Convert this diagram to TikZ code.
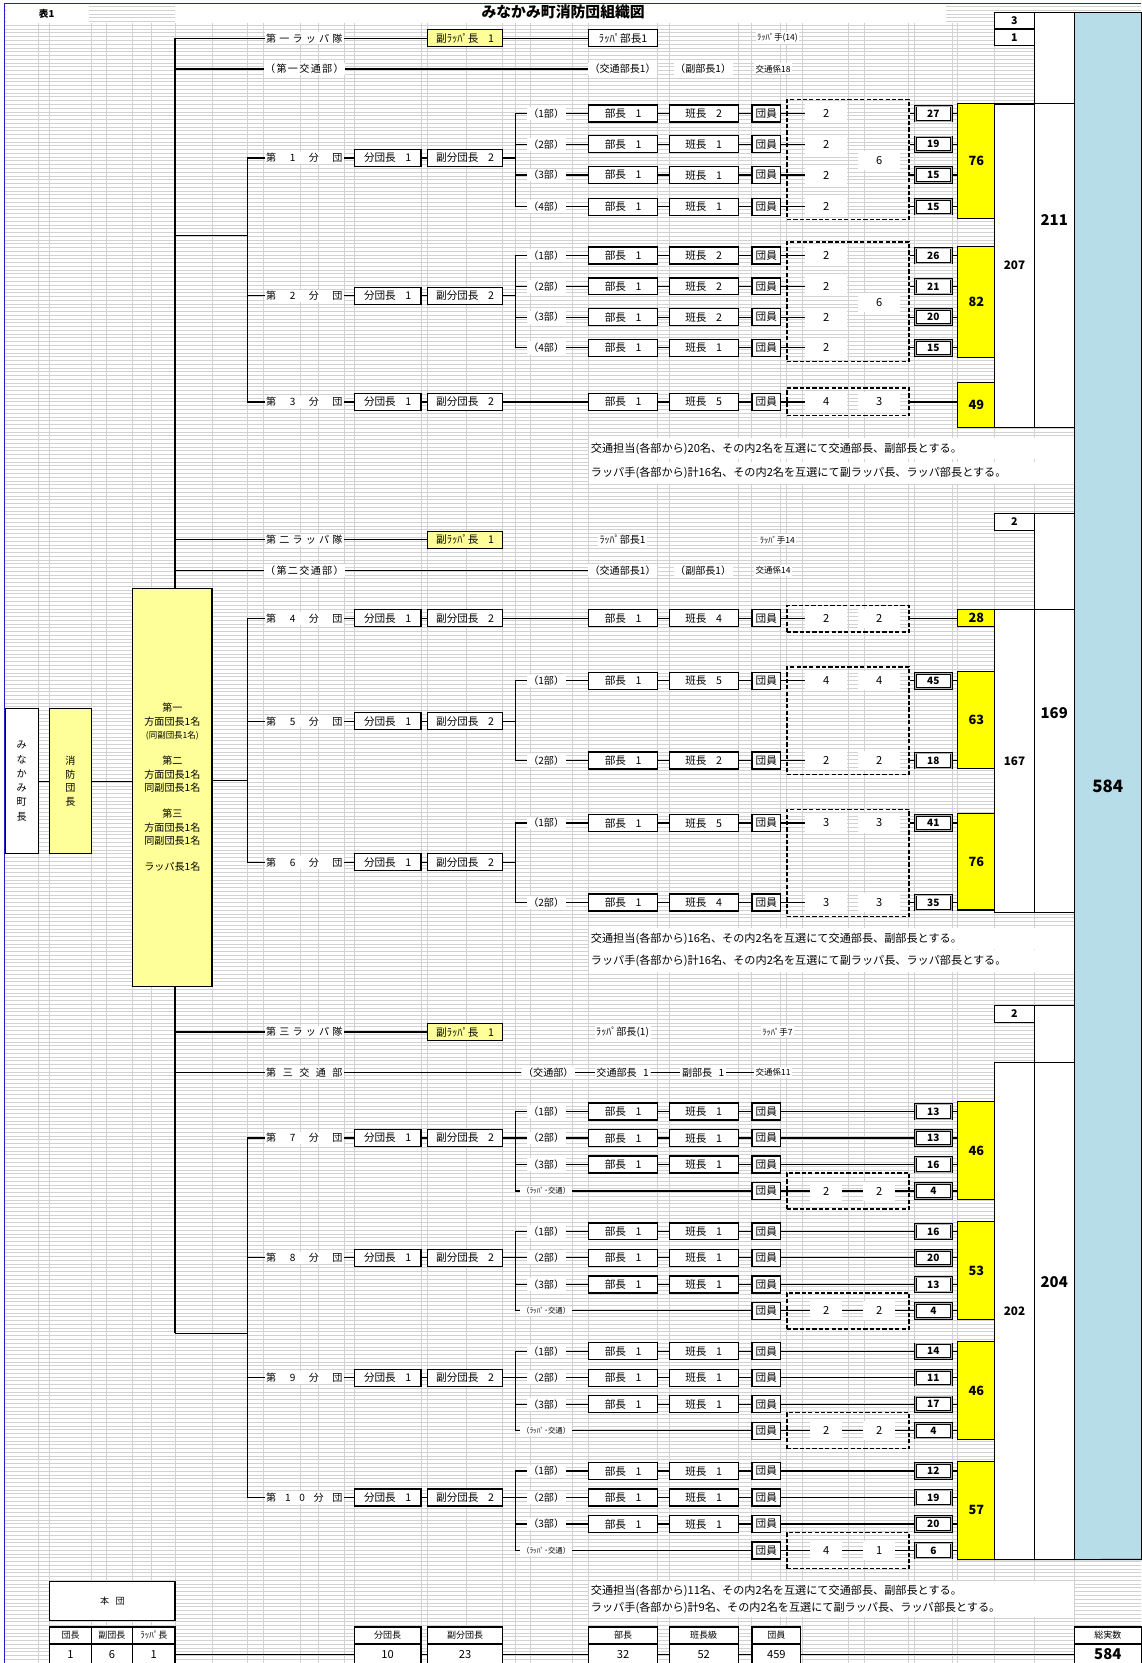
\documentclass[tikz,border=0pt]{standalone}
\usepackage{fontspec}
\setmainfont{Noto Sans CJK JP}
\usetikzlibrary{calc}
\definecolor{ylt}{HTML}{FFFF99}
\definecolor{yel}{HTML}{FFFF00}
\definecolor{blu}{HTML}{B7DDE8}
\definecolor{grd}{HTML}{D2D2D2}
\definecolor{brd}{HTML}{2020C8}

% boxes of a row: id, y, bucho, hancho
\newcommand\mkRowB[4]{%
 \node[bx,minimum width=65pt] (#1a) at (587.5,#2) {部長\hspace{9pt}#3};
 \node[bx,minimum width=65pt] (#1b) at (663.5,#2) {班長\hspace{9pt}#4};
 \node[bx,minimum width=27pt] (#1c) at (722.5,#2) {団員};
 \draw[ln] (#1a) -- (#1b);
 \draw[ln] (#1b) -- (#1c);
}
% row with branch tick and label: id, y, section, hancho
\newcommand\mkRow[4]{%
 \mkRowB{#1}{#2}{1}{#4}%
 \coordinate (#1t) at (486,#2);
 \draw[ln] (#1t) -- (#1a);
 \node[lbl] (#1l) at (515,#2) {（#3部）};
}
% rappa/kotsu row: id, y
\newcommand\mkRowR[2]{%
 \node[bx,minimum width=27pt] (#1c) at (722.5,#2) {団員};
 \coordinate (#1t) at (486,#2);
 \draw[ln] (#1t) -- (#1c);
 \node[lbl,font=\fontsize{7}{8}\selectfont] (#1l) at (515,#2) {（ﾗｯﾊﾟ･交通）};
}
% group header: id, y, label
\newcommand\mkGrp[3]{%
 \node[bx,minimum width=63pt] (#1f) at (365.5,#2) {分団長\hspace{9pt}1};
 \node[bx,minimum width=71pt] (#1g) at (438.5,#2) {副分団長\hspace{9pt}2};
 \coordinate (#1o) at (233,#2);
 \draw[ln] (#1o) -- (#1f);
 \draw[ln] (#1f) -- (#1g);
 \node[lbl] (#1l) at (287,#2) {\hbox to 72pt{#3}};
}
% number in dashed box + small box: id, y, num, dashed, small, yellow
\newcommand\mkDn[6]{%
 \node[nc] (#1n) at (779,#2) {#3};
 \draw[ln] (#1c) -- (#1n);
 \node[nb] (#1m) at (880,#2) {#5};
 \draw[ln] (#1m -| #4.east) -- (#1m);
 \draw[ln] (#1m) -- (#1m -| #6.west);
}
% section 3 row: id, y, section, small, yellow
\newcommand\mkRt[5]{%
 \mkRow{#1}{#2}{#3}{1}%
 \node[nb] (#1m) at (880,#2) {#4};
 \draw[ln] (#1c) -- (#1m);
 \draw[ln] (#1m) -- (#1m -| #5.west);
}
% section 3 rappa row: id, y, n1, n2, small, yellow, dashed id
\newcommand\mkRr[7]{%
 \node[dbox,minimum height=34pt] (#7) at (799.5,#2) {};
 \mkRowR{#1}{#2}%
 \node[nb] (#1m) at (880,#2) {#5};
 \draw[ln] (#1c) -- (#1m);
 \draw[ln] (#1m) -- (#1m -| #6.west);
 \node[nc,minimum width=30pt] (#1n) at (779,#2) {#3};
 \node[nc,minimum width=30pt] (#1o) at (829,#2) {#4};
}

\begin{document}
\begin{tikzpicture}[x=1pt,y=-1pt,
  ln/.style={line width=1.1pt},
  bx/.style={draw,line width=1.2pt,fill=white,inner sep=0pt,minimum height=16pt,font=\fontsize{10}{10}\selectfont},
  ybx/.style={bx,fill=ylt},
  lbl/.style={fill=white,inner sep=1.5pt,font=\fontsize{9.5}{10}\selectfont},
  txt/.style={fill=white,inner sep=1.5pt,font=\fontsize{9.5}{10}\selectfont},
  sml/.style={fill=white,inner sep=1.5pt,font=\fontsize{8}{9}\selectfont},
  nb/.style={draw,line width=0.8pt,double=gray!60,double distance=0.7pt,fill=white,inner sep=0pt,minimum width=34pt,minimum height=14pt,font=\bfseries\fontsize{9.5}{10}\selectfont},
  nc/.style={fill=white,inner sep=0pt,minimum width=40pt,minimum height=18pt,font=\fontsize{10.5}{12}\selectfont},
  yb/.style={draw,line width=1pt,fill=yel,inner sep=0pt,minimum width=35pt,font=\bfseries\fontsize{12}{13}\selectfont},
  dbox/.style={draw,dash pattern=on 4pt off 2pt,line width=1.3pt,inner sep=0pt,minimum width=115pt},
  col/.style={draw,line width=0.8pt,fill=white,inner sep=0pt,font=\bfseries\fontsize{14}{15}\selectfont},
  note/.style={anchor=west,inner sep=0pt,font=\fontsize{10.5}{11}\selectfont},
  hd/.style={draw,line width=1.2pt,fill=white,inner sep=0pt,minimum height=16pt,font=\fontsize{8.5}{10}\selectfont},
  vl/.style={draw,line width=1.2pt,fill=white,inner sep=0pt,minimum height=20pt,font=\fontsize{10.5}{12}\selectfont},
  gh/.style={draw=grd,line width=0.45pt},
  gv/.style={draw=grd,line width=0.9pt}]
\useasboundingbox (0,0) rectangle (1076,1568);
% ---------------- background grid
\fill[white] (0,0) rectangle (1076,1568);
\foreach \i in {0,...,440} {\draw[gh] (5,{6+3.55*\i}) -- (1076,{6+3.55*\i});}
\foreach \x in {36,47,86,100,125,143,165,200,233,248,283,300,325,334,397,403,440,474,486,500,540,555,620,631,696,709,736,742,757,800,815,857,862,898,903,938,975,1013}
  {\draw[gv] (\x,22) -- (\x,1568);}
\fill[white] (6,4) rectangle (84,22);
\fill[white] (165,4) rectangle (892,22);
\draw[brd,line width=1pt] (4,1568) -- (4,3) -- (1076,3);
\node[font=\bfseries\fontsize{9}{10}\selectfont] (hyo) at (44,13) {表1};
\node[font=\bfseries\fontsize{14}{15}\selectfont] (title) at (531,11) {みなかみ町消防団組織図};

% ---------------- right summary columns
\node[col,fill=blu,minimum width=63pt,minimum height=1458pt,font=\bfseries\fontsize{16}{17}\selectfont] (BLUE) at (1044.5,741) {584};
\node[col,minimum width=38pt,minimum height=391pt] (C211) at (994,207.5) {211};
\node[col,minimum width=37pt,minimum height=15pt,font=\bfseries\fontsize{10}{11}\selectfont] (B3) at (956.5,19.5) {3};
\node[col,minimum width=37pt,minimum height=15.5pt,font=\bfseries\fontsize{10}{11}\selectfont] (B1) at (956.5,35.3) {1};
\node[col,minimum width=37pt,minimum height=305pt,font=\bfseries\fontsize{11}{12}\selectfont] (C207) at (956.5,250.5) {207};
\draw[line width=0.8pt] (C207.north west) -- (C207.north west -| C211.east);
\node[col,minimum width=38pt,minimum height=376pt] (C169) at (994,672) {169};
\node[col,minimum width=37pt,minimum height=16pt,font=\bfseries\fontsize{10}{11}\selectfont] (B2a) at (956.5,492) {2};
\node[col,minimum width=37pt,minimum height=285pt,font=\bfseries\fontsize{11}{12}\selectfont] (C167) at (956.5,717.5) {167};
\draw[line width=0.8pt] (C167.north west) -- (C167.north west -| C169.east);
\draw[line width=0.8pt] (C167.south west) -- (C167.south west -| C169.east);
\node[col,minimum width=38pt,minimum height=522pt] (C204) at (994,1209) {204};
\node[col,minimum width=37pt,minimum height=16pt,font=\bfseries\fontsize{10}{11}\selectfont] (B2b) at (956.5,956) {2};
\node[col,minimum width=37pt,minimum height=468pt,font=\bfseries\fontsize{11}{12}\selectfont] (C202) at (956.5,1236) {202};
\draw[line width=0.8pt] (C202.north west) -- (C202.north west -| C204.east);

% ---------------- trunk
\coordinate (T1) at (165,36);
\coordinate (T2) at (165,65);
\coordinate (T3) at (165,222);
\coordinate (T4) at (165,509);
\coordinate (T5) at (165,538);
\coordinate (T6) at (165,973);
\coordinate (T7) at (165,1011);
\coordinate (T8) at (165,1257);
\draw[ln] (T1) -- (T8);

% ---------------- left heads
\node[bx,minimum width=31pt,minimum height=137pt,align=center,font=\fontsize{9.5}{13.5}\selectfont] (MAYOR) at (20.5,736.5) {み\\な\\か\\み\\町\\長};
\node[ybx,minimum width=39pt,minimum height=137pt,align=center,font=\fontsize{9.5}{13}\selectfont] (CHIEF) at (66.5,736.5) {消\\防\\団\\長};
\node[ybx,minimum width=75pt,minimum height=375pt,align=center,font=\fontsize{9.5}{12.5}\selectfont] (BIG) at (162.5,742.5)
 {第一\\方面団長1名\\{\fontsize{8}{12.5}\selectfont (同副団長1名)}\\[12.5pt]第二\\方面団長1名\\同副団長1名\\[12.5pt]第三\\方面団長1名\\同副団長1名\\[12.5pt]ラッパ長1名};
\draw[ln] (MAYOR) -- (CHIEF);
\draw[ln] (CHIEF) -- (CHIEF -| BIG.west);

% ================= SECTION 1
\node[ybx,minimum width=71pt] (P1v) at (438.5,36) {副ﾗｯﾊﾟ長\hspace{9pt}1};
\node[bx,minimum width=65pt] (P1b) at (587.5,36) {ﾗｯﾊﾟ部長1};
\draw[ln] (T1) -- (P1v);
\draw[ln] (P1v) -- (P1b);
\node[lbl] (P1l) at (287,36) {\hbox to 72pt{第\hfil 一\hfil ラ\hfil ッ\hfil パ\hfil 隊}};
\node[sml] (P1h) at (733,36) {ﾗｯﾊﾟ手(14)};

\node[txt] (K1a) at (587,65) {（交通部長1）};
\draw[ln] (T2) -- (K1a);
\node[lbl] (K1l) at (287,65) {\hbox to 74pt{（\hfil 第\hfil 一\hfil 交\hfil 通\hfil 部\hfil ）}};
\node[txt] (K1b) at (663,65) {（副部長1）};
\node[sml] (K1c) at (729,65) {交通係18};

\mkGrp{G1}{149}{第\hfil 1\hfil 分\hfil 団}
\mkGrp{G2}{279}{第\hfil 2\hfil 分\hfil 団}
\mkGrp{G3}{379}{第\hfil 3\hfil 分\hfil 団}
\coordinate (S1) at (233,222);
\draw[ln] (T3) -- (S1);
\draw[ln] (G1o) -- (G3o);

% group 1
\node[dbox,minimum height=113pt] (D1) at (799.5,150.5) {};
\node[yb,minimum height=108pt] (Y1) at (920.5,152) {76};
\mkRow{A1}{107}{1}{2}
\mkRow{A2}{136}{2}{1}
\mkRow{A3}{165}{3}{1}
\mkRow{A4}{195}{4}{1}
\draw[ln] (A1t) -- (A4t);
\draw[ln] (G1g) -- (G1g -| A1t);
\mkDn{A1}{107}{2}{D1}{27}{Y1}
\mkDn{A2}{136}{2}{D1}{19}{Y1}
\mkDn{A3}{165}{2}{D1}{15}{Y1}
\mkDn{A4}{195}{2}{D1}{15}{Y1}
\node[nc] (D1x) at (829,151) {6};

% group 2
\node[dbox,minimum height=113pt] (D2) at (799.5,284.5) {};
\node[yb,minimum height=105pt] (Y2) at (920.5,284.5) {82};
\mkRow{A5}{241}{1}{2}
\mkRow{A6}{270}{2}{2}
\mkRow{A7}{299}{3}{2}
\mkRow{A8}{328}{4}{1}
\draw[ln] (A5t) -- (A8t);
\draw[ln] (G2g) -- (G2g -| A5t);
\mkDn{A5}{241}{2}{D2}{26}{Y2}
\mkDn{A6}{270}{2}{D2}{21}{Y2}
\mkDn{A7}{299}{2}{D2}{20}{Y2}
\mkDn{A8}{328}{2}{D2}{15}{Y2}
\node[nc] (D2x) at (829,285) {6};

% group 3
\node[dbox,minimum height=26pt] (D3) at (799.5,379) {};
\node[yb,minimum height=42pt] (Y3) at (920.5,382) {49};
\mkRowB{A9}{379}{1}{5}
\draw[ln] (G3g) -- (A9a);
\node[nc] (A9n) at (779,379) {4};
\node[nc] (A9o) at (829,379) {3};
\draw[ln] (A9c) -- (A9n);
\draw[ln] (D3.east) -- (D3.east -| Y3.west);

\fill[white] (555,413) rectangle (1013,433);
\fill[white] (555,436) rectangle (1013,456);
\node[note] (N1a) at (557,423) {交通担当(各部から)20名、その内2名を互選にて交通部長、副部長とする。};
\node[note] (N1b) at (557,446) {ラッパ手(各部から)計16名、その内2名を互選にて副ラッパ長、ラッパ部長とする。};

% ================= SECTION 2
\node[ybx,minimum width=71pt] (P2v) at (438.5,509) {副ﾗｯﾊﾟ長\hspace{9pt}1};
\draw[ln] (T4) -- (P2v);
\node[lbl] (P2l) at (287,509) {\hbox to 72pt{第\hfil 二\hfil ラ\hfil ッ\hfil パ\hfil 隊}};
\node[txt] (P2b) at (587,509) {ﾗｯﾊﾟ部長1};
\node[sml] (P2h) at (733,509) {ﾗｯﾊﾟ手14};

\node[txt] (K2a) at (587,538) {（交通部長1）};
\draw[ln] (T5) -- (K2a);
\node[lbl] (K2l) at (287,538) {\hbox to 74pt{（\hfil 第\hfil 二\hfil 交\hfil 通\hfil 部\hfil ）}};
\node[txt] (K2b) at (663,538) {（副部長1）};
\node[sml] (K2c) at (729,538) {交通係14};

\mkGrp{G4}{583}{第\hfil 4\hfil 分\hfil 団}
\mkGrp{G5}{680}{第\hfil 5\hfil 分\hfil 団}
\mkGrp{G6}{813}{第\hfil 6\hfil 分\hfil 団}
\coordinate (S2) at (233,736);
\draw[ln] (BIG.east |- S2) -- (S2);
\draw[ln] (G4o) -- (G6o);

% group 4
\node[dbox,minimum height=25pt] (D4) at (799.5,583.5) {};
\node[yb,minimum height=16pt] (Y4) at (920.5,583) {28};
\mkRowB{B1}{583}{1}{4}
\draw[ln] (G4g) -- (B1a);
\node[nc] (B1n) at (779,583) {2};
\node[nc] (B1o) at (829,583) {2};
\draw[ln] (B1c) -- (B1n);
\draw[ln] (D4.east) -- (D4.east -| Y4.west);

% group 5
\node[dbox,minimum height=101pt] (D5) at (799.5,679.5) {};
\node[yb,minimum height=92pt] (Y5) at (920.5,679) {63};
\mkRow{B2}{642}{1}{5}
\mkRow{B3}{717}{2}{2}
\draw[ln] (B2t) -- (B3t);
\draw[ln] (G5g) -- (G5g -| B2t);
\mkDn{B2}{642}{4}{D5}{45}{Y5}
\mkDn{B3}{717}{2}{D5}{18}{Y5}
\node[nc] (B2o) at (829,642) {4};
\node[nc] (B3o) at (829,717) {2};

% group 6
\node[dbox,minimum height=101pt] (D6) at (799.5,813.5) {};
\node[yb,minimum height=91pt] (Y6) at (920.5,812.5) {76};
\mkRow{B4}{776}{1}{5}
\mkRow{B5}{851}{2}{4}
\draw[ln] (B4t) -- (B5t);
\draw[ln] (G6g) -- (G6g -| B4t);
\mkDn{B4}{776}{3}{D6}{41}{Y6}
\mkDn{B5}{851}{3}{D6}{35}{Y6}
\node[nc] (B4o) at (829,776) {3};
\node[nc] (B5o) at (829,851) {3};

\fill[white] (555,875) rectangle (1013,895);
\fill[white] (555,896) rectangle (1013,916);
\node[note] (N2a) at (557,885) {交通担当(各部から)16名、その内2名を互選にて交通部長、副部長とする。};
\node[note] (N2b) at (557,906) {ラッパ手(各部から)計16名、その内2名を互選にて副ラッパ長、ラッパ部長とする。};

% ================= SECTION 3
\node[ybx,minimum width=71pt] (P3v) at (438.5,973) {副ﾗｯﾊﾟ長\hspace{9pt}1};
\draw[ln] (T6) -- (P3v);
\node[lbl] (P3l) at (287,973) {\hbox to 72pt{第\hfil 三\hfil ラ\hfil ッ\hfil パ\hfil 隊}};
\node[txt] (P3b) at (587,973) {ﾗｯﾊﾟ部長(1)};
\node[sml] (P3h) at (733,973) {ﾗｯﾊﾟ手7};

\node[txt] (K3a) at (517,1011) {（交通部）};
\node[txt] (K3b) at (587,1011) {交通部長\hspace{6pt}1};
\node[txt] (K3c) at (663,1011) {副部長\hspace{6pt}1};
\node[sml] (K3d) at (729,1011) {交通係11};
\draw[ln] (T7) -- (K3a);
\draw[ln] (K3a) -- (K3b);
\draw[ln] (K3b) -- (K3c);
\draw[ln] (K3c) -- (K3d);
\node[lbl] (K3l) at (287,1011) {\hbox to 72pt{第\hfil 三\hfil 交\hfil 通\hfil 部}};

\mkGrp{G7}{1073}{第\hfil 7\hfil 分\hfil 団}
\mkGrp{G8}{1186}{第\hfil 8\hfil 分\hfil 団}
\mkGrp{G9}{1299}{第\hfil 9\hfil 分\hfil 団}
\mkGrp{GX}{1412}{第\hfil 1\hfil 0\hfil 分\hfil 団}
\coordinate (S3) at (233,1257);
\draw[ln] (T8) -- (S3);
\draw[ln] (G7o) -- (GXo);

% group 7
\node[yb,minimum height=92pt] (Y7) at (920.5,1085) {46};
\mkRt{C1}{1048}{1}{13}{Y7}
\mkRt{C2}{1073}{2}{13}{Y7}
\mkRt{C3}{1098}{3}{16}{Y7}
\mkRr{C4}{1123}{2}{2}{4}{Y7}{D7}
\draw[ln] (C1t) -- (C4t);
\draw[ln] (G7g) -- (G7g -| C1t);

% group 8
\node[yb,minimum height=92pt] (Y8) at (920.5,1198) {53};
\mkRt{C5}{1161}{1}{16}{Y8}
\mkRt{C6}{1186}{2}{20}{Y8}
\mkRt{C7}{1211}{3}{13}{Y8}
\mkRr{C8}{1236}{2}{2}{4}{Y8}{D8}
\draw[ln] (C5t) -- (C8t);
\draw[ln] (G8g) -- (G8g -| C5t);

% group 9
\node[yb,minimum height=92pt] (Y9) at (920.5,1311) {46};
\mkRt{E1}{1274}{1}{14}{Y9}
\mkRt{E2}{1299}{2}{11}{Y9}
\mkRt{E3}{1324}{3}{17}{Y9}
\mkRr{E4}{1349}{2}{2}{4}{Y9}{D9}
\draw[ln] (E1t) -- (E4t);
\draw[ln] (G9g) -- (G9g -| E1t);

% group 10
\node[yb,minimum height=92pt] (YX) at (920.5,1424) {57};
\mkRt{E5}{1387}{1}{12}{YX}
\mkRt{E6}{1412}{2}{19}{YX}
\mkRt{E7}{1437}{3}{20}{YX}
\mkRr{E8}{1462}{4}{1}{6}{YX}{DX}
\draw[ln] (E5t) -- (E8t);
\draw[ln] (GXg) -- (GXg -| E5t);

\draw[line width=1pt] (YX.south west) -- (BLUE.south east);

\fill[white] (555,1491) rectangle (1013,1508);
\fill[white] (555,1508) rectangle (1013,1525);
\node[note] (N3a) at (557,1500) {交通担当(各部から)11名、その内2名を互選にて交通部長、副部長とする。};
\node[note] (N3b) at (557,1516) {ラッパ手(各部から)計9名、その内2名を互選にて副ラッパ長、ラッパ部長とする。};

% ================= bottom table
\node[hd,minimum width=118pt,minimum height=37pt] (HON) at (106,1509.5) {本\hspace{6pt}団};
\node[hd,minimum width=39pt] (H1) at (66.5,1542) {団長};
\node[hd,minimum width=39pt] (H2) at (105.5,1542) {副団長};
\node[hd,minimum width=40pt] (H3) at (145,1542) {ﾗｯﾊﾟ長};
\node[vl,minimum width=39pt] (V1) at (66.5,1560) {1};
\node[vl,minimum width=39pt] (V2) at (105.5,1560) {6};
\node[vl,minimum width=40pt] (V3) at (145,1560) {1};
\node[hd,minimum width=63pt] (H4) at (365.5,1542) {分団長};
\node[vl,minimum width=63pt] (V4) at (365.5,1560) {10};
\node[hd,minimum width=71pt] (H5) at (438.5,1542) {副分団長};
\node[vl,minimum width=71pt] (V5) at (438.5,1560) {23};
\node[hd,minimum width=65pt] (H6) at (587.5,1542) {部長};
\node[vl,minimum width=65pt] (V6) at (587.5,1560) {32};
\node[hd,minimum width=65pt] (H7) at (663.5,1542) {班長級};
\node[vl,minimum width=65pt] (V7) at (663.5,1560) {52};
\node[hd,minimum width=46pt] (H8) at (732,1542) {団員};
\node[vl,minimum width=46pt] (V8) at (732,1560) {459};
\node[hd,minimum width=63pt] (H9) at (1044.5,1542) {総実数};
\node[vl,minimum width=63pt,font=\bfseries\fontsize{14}{15}\selectfont] (V9) at (1044.5,1560) {584};
\draw[ln] (V3) -- (V4);
\draw[ln] (V4) -- (V5);
\draw[ln] (V5) -- (V6);
\draw[ln] (V6) -- (V7);
\draw[ln] (V7) -- (V8);
\draw[ln] (V8) -- (V9);
\end{tikzpicture}
\end{document}
